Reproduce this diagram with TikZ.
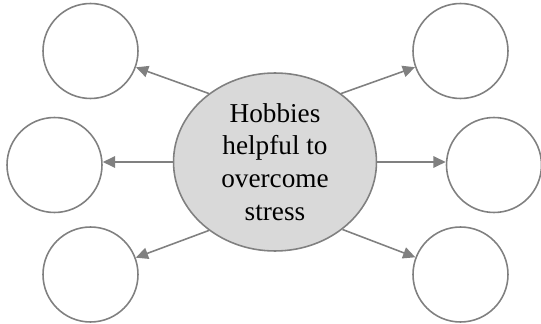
\documentclass[tikz,border=0pt]{standalone}
\usepackage{fontspec}
\setmainfont{Liberation Serif}
\usetikzlibrary{shapes.geometric,arrows.meta}
\definecolor{rimgray}{HTML}{808080}
\definecolor{hubfill}{HTML}{D9D9D9}
\tikzset{
    hubnode/.style={ellipse, draw=rimgray, fill=hubfill, line width=0.9pt,
        minimum width=4.06cm, minimum height=3.56cm, align=center,
        font=\fontsize{15.5}{18.6}\selectfont, inner sep=0pt},
    leafnode/.style={circle, draw=rimgray, line width=0.9pt, minimum size=1.9cm, inner sep=0pt},
    link/.style={draw=rimgray, line width=0.9pt, -{Triangle[length=7pt,width=6.5pt]}}
}
\begin{document}
\begin{tikzpicture}[x=0.02cm, y=-0.02cm]
    \useasboundingbox (0,0) rectangle (541,324);

    % --- Ellisse centrale ---
    \node[hubnode] (hub) at (275,162) {Hobbies\\helpful to\\overcome\\stress};

    % --- Cerchi vuoti attorno ---
    \foreach \name/\x/\y in {tl/90.5/51, ml/54.5/165, bl/90.5/274.5,
                             tr/460.5/51, mr/494/165, br/460.5/274.5} {
        \node[leafnode] (\name) at (\x,\y) {};
    }

    % --- Frecce oblique dal centro verso i cerchi ---
    \foreach \from/\to in {134/tl, 226/bl, 46/tr, 315/br} {
        \draw[link] (hub.\from) -- (\to);
    }

    % --- Frecce orizzontali ---
    \draw[link] (hub.west) -- (hub.west -| ml.east);
    \draw[link] (hub.east) -- (hub.east -| mr.west);

\end{tikzpicture}
\end{document}
